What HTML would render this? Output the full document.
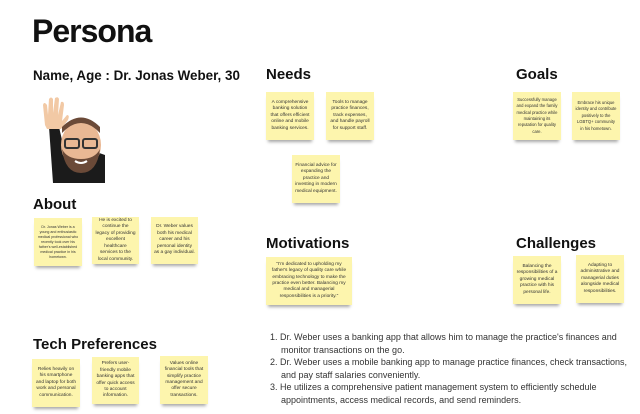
<!DOCTYPE html>
<html><head><meta charset="utf-8"><style>
*{margin:0;padding:0;box-sizing:border-box}
body{width:640px;height:414px;background:#fff;position:relative;overflow:hidden;font-family:"Liberation Sans",sans-serif;color:#1a1a1a}
.h{position:absolute;font-weight:bold;font-size:15px;white-space:nowrap;color:#111}
.n{position:absolute;background:#fdf5ad;display:flex;align-items:center;justify-content:center;text-align:center;font-size:4.8px;line-height:6.4px;color:#333;padding:3px;box-shadow:0 4px 3px -2px rgba(0,0,0,.35)}
.list{position:absolute;left:270px;top:331px;width:370px;font-size:9px;line-height:12.6px;color:#333}
.list div{padding-left:11px;text-indent:-11px}
</style></head><body>
<div class="h" style="left:32px;top:13px;font-size:32px;letter-spacing:-1px">Persona</div>
<div class="h" style="left:33px;top:68px;font-size:13.4px">Name, Age : Dr. Jonas Weber, 30</div>
<svg style="position:absolute;left:35px;top:93px" width="70" height="90" viewBox="0 0 70 90">
<path d="M14 34 L24 34 L30 60 L50 55 L70 62 L70 90 L18 90 Z" fill="#1b1b1b"/>
<path d="M10 32 L8 12 Q9 8 12 12 L13 22 L14 6 Q16 3 18 6 L18 20 L20 5 Q23 3 24 6 L23 22 L26 9 Q29 8 29 12 L27 28 L32 22 Q35 22 33 27 L26 36 L12 36 Z" fill="#f2c9a5"/>
<ellipse cx="46" cy="52" rx="20" ry="24" fill="#e9b894"/>
<path d="M27 40 Q46 20 65 40 L65 34 Q46 15 27 34 Z" fill="#6b4a38"/>
<path d="M27 56 Q30 80 46 80 Q62 80 65 56 Q60 66 46 66 Q32 66 27 56Z" fill="#6b4a38"/>
<rect x="30" y="46" width="14" height="9" rx="2" fill="none" stroke="#333" stroke-width="2"/>
<rect x="48" y="46" width="14" height="9" rx="2" fill="none" stroke="#333" stroke-width="2"/>
<path d="M40 68 Q46 72 52 68" stroke="#fff" stroke-width="2" fill="none"/>
</svg>
<div class="h" style="left:33px;top:196px">About</div>
<div class="n" style="left:34px;top:218px;width:48px;height:48px;font-size:3.6px;line-height:5px">Dr. Jonas Weber is a young and enthusiastic medical professional who recently took over his father's well-established medical practice in his hometown.</div>
<div class="n" style="left:92px;top:217px;width:47px;height:47px">He is excited to continue the legacy of providing excellent healthcare services to the local community.</div>
<div class="n" style="left:151px;top:217px;width:47px;height:47px">Dr. Weber values both his medical career and his personal identity as a gay individual.</div>
<div class="h" style="left:33px;top:336px">Tech Preferences</div>
<div class="n" style="left:32px;top:359px;width:48px;height:48px">Relies heavily on his smartphone and laptop for both work and personal communication.</div>
<div class="n" style="left:92px;top:357px;width:47px;height:47px">Prefers user-friendly mobile banking apps that offer quick access to account information.</div>
<div class="n" style="left:160px;top:356px;width:48px;height:48px">Values online financial tools that simplify practice management and offer secure transactions.</div>
<div class="h" style="left:266px;top:66px">Needs</div>
<div class="n" style="left:266px;top:92px;width:48px;height:48px">A comprehensive banking solution that offers efficient online and mobile banking services.</div>
<div class="n" style="left:326px;top:92px;width:48px;height:48px">Tools to manage practice finances, track expenses, and handle payroll for support staff.</div>
<div class="n" style="left:292px;top:155px;width:48px;height:48px">Financial advice for expanding the practice and investing in modern medical equipment.</div>
<div class="h" style="left:516px;top:66px">Goals</div>
<div class="n" style="left:513px;top:92px;width:48px;height:48px;font-size:4.2px">Successfully manage and expand the family medical practice while maintaining its reputation for quality care.</div>
<div class="n" style="left:572px;top:92px;width:48px;height:48px;font-size:4.2px">Embrace his unique identity and contribute positively to the LGBTQ+ community in his hometown.</div>
<div class="h" style="left:266px;top:235px">Motivations</div>
<div class="n" style="left:266px;top:257px;width:86px;height:48px">"I'm dedicated to upholding my father's legacy of quality care while embracing technology to make the practice even better. Balancing my medical and managerial responsibilities is a priority."</div>
<div class="h" style="left:516px;top:235px">Challenges</div>
<div class="n" style="left:513px;top:256px;width:48px;height:48px">Balancing the responsibilities of a growing medical practice with his personal life.</div>
<div class="n" style="left:576px;top:255px;width:48px;height:48px">Adapting to administrative and managerial duties alongside medical responsibilities.</div>
<div class="list">
<div>1. Dr. Weber uses a banking app that allows him to manage the practice's finances and monitor transactions on the go.</div>
<div>2. Dr. Weber uses a mobile banking app to manage practice finances, check transactions, and pay staff salaries conveniently.</div>
<div>3. He utilizes a comprehensive patient management system to efficiently schedule appointments, access medical records, and send reminders.</div>
</div>
</body></html>
